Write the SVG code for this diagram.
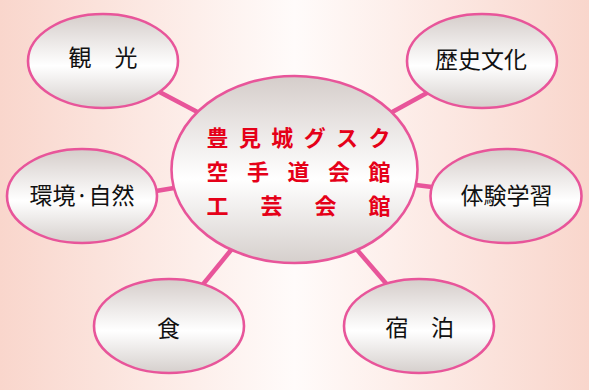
<svg xmlns="http://www.w3.org/2000/svg" width="589" height="390" viewBox="0 0 589 390">
<defs>
<linearGradient id="bg" x1="0" y1="0" x2="1" y2="0">
<stop offset="0" stop-color="#f9d6cc"/>
<stop offset="0.5" stop-color="#fffbfa"/>
<stop offset="1" stop-color="#f9d6cc"/>
</linearGradient>
<linearGradient id="fill" x1="0" y1="0" x2="0" y2="1">
<stop offset="0" stop-color="#d5cdca"/>
<stop offset="0.55" stop-color="#ffffff"/>
<stop offset="1" stop-color="#d5cfcc"/>
</linearGradient>
</defs>
<style>
.n{fill:url(#fill);stroke:#e8559a;stroke-width:2.6}
.c line{stroke:#e8559a;stroke-width:4.5}
.t{font-family:"Noto Sans CJK JP","Noto Sans",sans-serif;font-size:23px;fill:#111;text-anchor:middle}
.r{font-family:"Noto Sans CJK JP","Noto Sans",sans-serif;font-size:22px;font-weight:bold;fill:#e50018;text-anchor:middle}
</style>
<rect x="0" y="0" width="589" height="390" fill="url(#bg)"/>
<g id="connectors" class="c">
<line x1="150" y1="87" x2="205" y2="116"/>
<line x1="436" y1="88" x2="385" y2="116"/>
<line x1="150" y1="192" x2="180" y2="187"/>
<line x1="408" y1="184" x2="440" y2="188"/>
<line x1="200" y1="288" x2="236" y2="244"/>
<line x1="352" y1="244" x2="390" y2="288"/>
</g>
<g id="center">
<ellipse class="n" cx="294.5" cy="169.5" rx="123" ry="93.5"/>
<text class="r" y="146" x="217.5 249.9 282.3 314.7 347.1 379.5">豊見城グスク</text>
<text class="r" y="180" x="217.5 258 298.5 339 379.5">空手道会館</text>
<text class="r" y="214" x="217.5 271.5 325.5 379.5">工芸会館</text>
</g>
<g id="kanko">
<ellipse class="n" cx="103" cy="61" rx="75" ry="47"/>
<text class="t" y="66" x="80 126">観光</text>
</g>
<g id="rekishi">
<ellipse class="n" cx="482" cy="61" rx="75" ry="47"/>
<text class="t" x="481" y="68">歴史文化</text>
</g>
<g id="kankyo">
<ellipse class="n" cx="82" cy="196" rx="75" ry="47"/>
<text class="t" x="82" y="204">環境·自然</text>
</g>
<g id="taiken">
<ellipse class="n" cx="506" cy="196" rx="75.5" ry="47"/>
<text class="t" x="506.5" y="204">体験学習</text>
</g>
<g id="shoku">
<ellipse class="n" cx="169" cy="326" rx="75" ry="47"/>
<text class="t" x="168.5" y="337">食</text>
</g>
<g id="shukuhaku">
<ellipse class="n" cx="419" cy="326" rx="75" ry="47"/>
<text class="t" y="336" x="397 442.5">宿泊</text>
</g>
</svg>
